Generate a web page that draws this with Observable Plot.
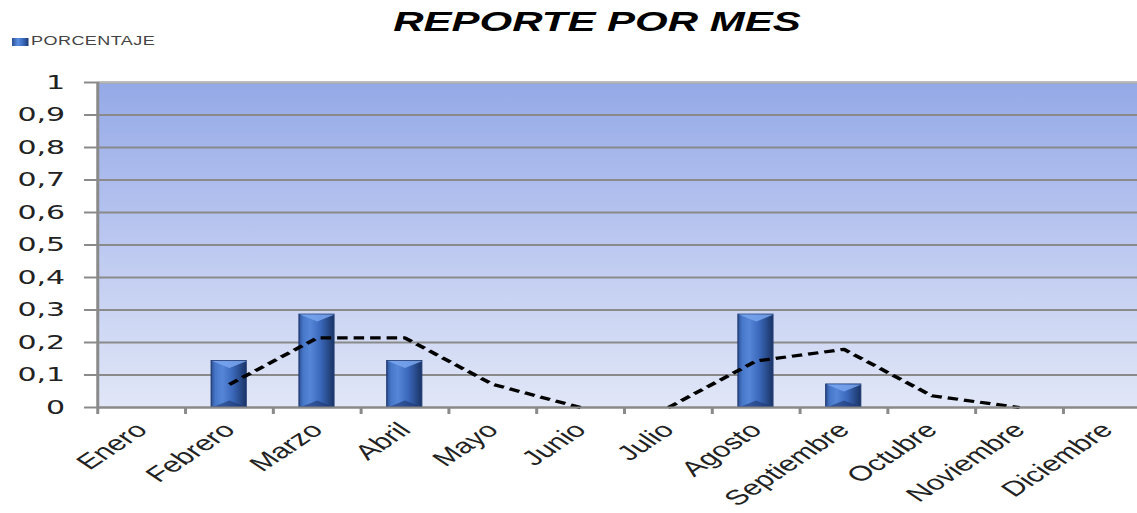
<!DOCTYPE html>
<html>
<head>
<meta charset="utf-8">
<script src="https://cdn.jsdelivr.net/npm/d3@7"></script>
<script src="https://cdn.jsdelivr.net/npm/@observablehq/plot@0.6"></script>
<style>
  html, body { margin: 0; padding: 0; background: #fff; overflow: hidden; width: 1137px; height: 513px; }
  #wrap { transform: scaleX(1.5); transform-origin: 0 0; width: 767px; }
  #header { position: relative; height: 58px; }
  #title { position: absolute; left: 0; width: 796px; top: 8px; text-align: center;
           font: italic bold 28px/1 "Liberation Sans", Arial, sans-serif; color: #000; }
  #legend { position: absolute; left: 8px; top: 35px; font: 12px/12px "Liberation Sans", Arial, sans-serif; color: #444; }
  #legend .sw { position: absolute; left: 0; top: 3px; width: 10.7px; height: 8px;
                background: linear-gradient(90deg, #2b4f94, #5a8fe0 35%, #3e6cc0 65%, #1b3a75); }
  #legend .tx { position: absolute; left: 12.7px; top: 0; white-space: nowrap; letter-spacing: 0.3px; }
  svg { display: block; }
</style>
</head>
<body>
<div id="wrap">
  <div id="header">
    <div id="title">REPORTE POR MES</div>
    <div id="legend"><span class="sw"></span><span class="tx">PORCENTAJE</span></div>
  </div>
  <div id="chart"></div>
</div>
<script>
const months = ["Enero", "Febrero", "Marzo", "Abril", "Mayo", "Junio", "Julio", "Agosto", "Septiembre", "Octubre", "Noviembre", "Diciembre"];
const porcentaje = [0, 0.143, 0.286, 0.143, 0, 0, 0, 0.286, 0.071, 0, 0, 0];
const tendencia = [null, 0.071, 0.214, 0.214, 0.071, 0, 0, 0.143, 0.179, 0.036, 0, null];
const yTicks = [0, 0.1, 0.2, 0.3, 0.4, 0.5, 0.6, 0.7, 0.8, 0.9, 1];
const yTickLabels = ["0", "0,1", "0,2", "0,3", "0,4", "0,5", "0,6", "0,7", "0,8", "0,9", "1"];

const bars = months.map((m, i) => ({i, m, v: porcentaje[i]})).filter(d => d.v > 0);

// trend line, split where it runs along the baseline (hidden by the axis)
let seg = 0;
const trend = months.map((m, i) => {
  const v = tendencia[i];
  if (i > 0 && v === 0 && tendencia[i - 1] === 0) seg++;
  return {i, m, v, seg};
}).filter(d => d.v !== null);

const defs = () => {
  const d = d3.create("svg:defs");
  const bg = d.append("linearGradient").attr("id", "bgGrad").attr("x1", 0).attr("y1", 0).attr("x2", 0).attr("y2", 1);
  bg.append("stop").attr("offset", "0%").attr("stop-color", "#94a9e7");
  bg.append("stop").attr("offset", "50%").attr("stop-color", "#bcc8f0");
  bg.append("stop").attr("offset", "100%").attr("stop-color", "#e1e7f7");
  const bar = d.append("linearGradient").attr("id", "barGrad").attr("x1", 0).attr("y1", 0).attr("x2", 1).attr("y2", 0);
  bar.append("stop").attr("offset", "0%").attr("stop-color", "#2e5196");
  bar.append("stop").attr("offset", "12%").attr("stop-color", "#4777c8");
  bar.append("stop").attr("offset", "32%").attr("stop-color", "#5686d8");
  bar.append("stop").attr("offset", "62%").attr("stop-color", "#3a67b9");
  bar.append("stop").attr("offset", "88%").attr("stop-color", "#24447f");
  bar.append("stop").attr("offset", "100%").attr("stop-color", "#1a3366");
  return d.node();
};

const BW = 23.3;
const capTop = {draw(ctx) { ctx.moveTo(-BW / 2, 0); ctx.lineTo(BW / 2, 0); ctx.lineTo(0, 7); ctx.closePath(); }};
const capBottom = {draw(ctx) { ctx.moveTo(-BW / 2, 0); ctx.lineTo(BW / 2, 0); ctx.lineTo(0, -7); ctx.closePath(); }};

const W = 767, ML = 97 / 1.5;
const chart = Plot.plot({
  width: W,
  height: 455,
  marginLeft: ML,
  marginRight: 0,
  marginTop: 24,
  marginBottom: 106,
  style: {fontFamily: "'DejaVu Sans', sans-serif", background: "transparent", overflow: "visible"},
  x: {type: "linear", domain: [0, 12], label: null, axis: null},
  y: {domain: [0, 1], label: null, axis: null},
  marks: [
    defs,
    Plot.frame({fill: "url(#bgGrad)", stroke: "none"}),
    Plot.gridY(yTicks, {stroke: "#8a8a8a", strokeOpacity: 1, strokeWidth: 2}),
    Plot.ruleY([1], {stroke: "#b8b8b8", strokeWidth: 2}),
    Plot.rectY(bars, {x1: d => d.i, x2: d => d.i + 1, y1: 0, y2: "v", insetLeft: 17.6, insetRight: 17.6,
      fill: "url(#barGrad)", stroke: "#1f3a72", strokeWidth: 0.8}),
    Plot.dot(bars, {x: d => d.i + 0.5, y: "v", symbol: capTop, fill: "#7aa6ef", fillOpacity: 0.85, stroke: "none"}),
    Plot.dot(bars, {x: d => d.i + 0.5, y: () => 0, symbol: capBottom, fill: "#1c3670", fillOpacity: 0.6, stroke: "none"}),
    Plot.line(trend, {x: d => d.i + 0.5, y: "v", z: "seg", stroke: "#000", strokeWidth: 3.2,
      strokeDasharray: "7,4", strokeLinecap: "butt"}),
    Plot.ruleY([0], {stroke: "#8a8a8a", strokeWidth: 2}),
    Plot.ruleX([0], {stroke: "#8a8a8a", strokeWidth: 2}),
    Plot.axisY({ticks: yTicks, tickFormat: d => yTickLabels[Math.round(d * 10)], tickSize: 8.7, tickPadding: 13,
      fontSize: 20, fill: "#222", stroke: "#8a8a8a", strokeWidth: 2, label: null}),
    Plot.axisX({ticks: d3.range(13), tickFormat: () => "", tickSize: 7, stroke: "#8a8a8a", strokeWidth: 2, label: null}),
    Plot.axisX({ticks: d3.range(12).map(i => i + 0.5), tickFormat: d => months[Math.floor(d)], tickSize: 0,
      tickPadding: 19, tickRotate: -45, fontSize: 21, fontFamily: "'Liberation Sans', sans-serif", fill: "#222", label: null})
  ]
});
document.getElementById("chart").appendChild(chart);
</script>
</body>
</html>
